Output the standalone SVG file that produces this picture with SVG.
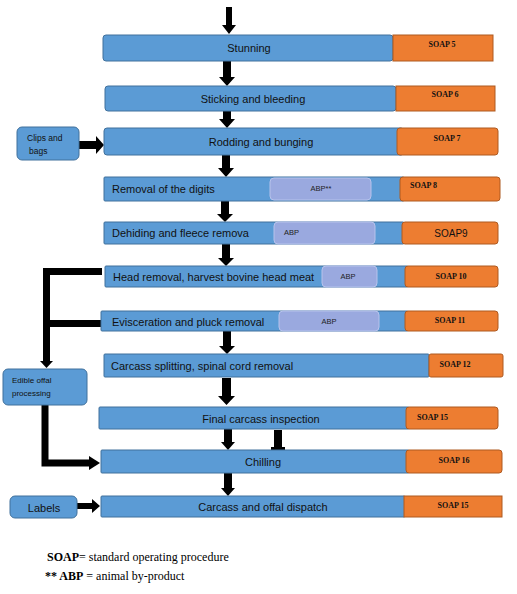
<svg xmlns="http://www.w3.org/2000/svg" width="517" height="594" viewBox="0 0 517 594">
<style>
.b{fill:#5B9BD5;stroke:#41719C;stroke-width:1}
.o{fill:#ED7D31;stroke:#AE5A21;stroke-width:1}
.a{fill:#9AA9DF;stroke:#B7C3EC;stroke-width:1}
.t{font-family:"Liberation Sans",Arial,sans-serif;font-size:11px;fill:#111}
.s{font-family:"Liberation Serif","Times New Roman",serif;font-size:8px;font-weight:bold;fill:#111}
.p{font-family:"Liberation Sans",Arial,sans-serif;font-size:7.5px;fill:#222}
.m{font-family:"Liberation Sans",Arial,sans-serif;font-size:8.5px;fill:#111}
.k{fill:#000}
.l{fill:none;stroke:#000;stroke-width:7}
.lg{font-family:"Liberation Serif","Times New Roman",serif;font-size:12px;fill:#000}
</style>

<g id="connectors">
  <path class="k" d="M226,7h6v18h4l-7,9l-7,-9h4z"/>
  <path class="k" d="M223,61h8v16h4l-8,9l-8,-9h4z"/>
  <path class="k" d="M223,111h8v8h4l-8,9l-8,-9h4z"/>
  <path class="k" d="M222,155h8v13h4l-8,9l-8,-9h4z"/>
  <path class="k" d="M221,201h8v13h4l-8,8l-8,-8h4z"/>
  <path class="k" d="M222,244h8v14h4l-8,8l-8,-8h4z"/>
  <path class="k" d="M223,331h8v15h4l-8,8l-8,-8h4z"/>
  <path class="k" d="M222,378h9v18h4l-8.5,9l-8.5,-9h4z"/>
  <path class="k" d="M224,429h8v13h3l-7,8l-7,-8h3z"/>
  <path class="k" d="M274,430h8v17h3v3h-14v-3h3z"/>
  <path class="k" d="M224,473h8v15h3l-7,8l-7,-8h3z"/>
  <path class="k" d="M79,141h17v-5l8,9l-8,9v-5h-17z"/>
  <path class="k" d="M255,186h15v4h-15z"/>
  <path class="k" d="M318,273h4v6h-4z"/>
  <path class="k" d="M77,503h15v-4l8,7l-8,7v-4h-15z"/>
  <path class="l" d="M102,271.5H46.5V362"/>
  <path class="l" d="M102,323.5H46.5"/>
  <path class="k" d="M40,361h13l-6.5,7z"/>
  <path class="l" d="M45,405V463H90"/>
  <path class="k" d="M89,456l11,7l-11,7z"/>
</g>

<g id="n-stunning">
  <rect class="b" x="103" y="35" width="290" height="26" rx="3"/>
  <rect class="o" x="393" y="35" width="100" height="26"/>
  <text class="t" x="249" y="52" text-anchor="middle">Stunning</text>
  <text class="s" x="442" y="47" text-anchor="middle">SOAP 5</text>
</g>
<g id="n-sticking">
  <rect class="b" x="105" y="86" width="291" height="25" rx="3"/>
  <rect class="o" x="396" y="86" width="99" height="25"/>
  <text class="t" x="253" y="103" text-anchor="middle">Sticking and bleeding</text>
  <text class="s" x="445" y="97" text-anchor="middle">SOAP 6</text>
</g>
<g id="n-rodding">
  <rect class="b" x="104" y="128" width="300" height="27" rx="3"/>
  <rect class="o" x="397" y="128" width="101" height="27" rx="3"/>
  <text class="t" x="261" y="146" text-anchor="middle">Rodding and bunging</text>
  <text class="s" x="447" y="141" text-anchor="middle">SOAP 7</text>
</g>
<g id="n-clips">
  <rect class="b" x="17" y="127" width="62" height="33" rx="5"/>
  <text class="m" x="27" y="141">Clips and</text>
  <text class="m" x="29" y="154">bags</text>
</g>
<g id="n-digits">
  <rect class="b" x="104" y="177" width="300" height="24" rx="1"/>
  <rect class="o" x="400" y="177" width="100" height="24" rx="3"/>
  <rect class="a" x="270" y="178" width="101" height="22" rx="4"/>
  <text class="t" x="112" y="193">Removal of the digits</text>
  <text class="p" x="321" y="191" text-anchor="middle">ABP**</text>
  <text class="s" x="410" y="188">SOAP 8</text>
</g>
<g id="n-dehiding">
  <rect class="b" x="104" y="222" width="300" height="22" rx="1"/>
  <rect class="o" x="402" y="222" width="96" height="22" rx="3"/>
  <rect class="a" x="274" y="222" width="101" height="22" rx="4"/>
  <text class="t" x="112" y="237">Dehiding and fleece remova</text>
  <text class="p" x="284" y="235">ABP</text>
  <text class="t" x="451" y="237" text-anchor="middle" style="font-size:10px">SOAP9</text>
</g>
<g id="n-head">
  <rect class="b" x="105" y="266" width="303" height="21" rx="1"/>
  <rect class="o" x="405" y="266" width="93" height="21" rx="3"/>
  <rect class="a" x="322" y="266" width="55" height="21" rx="4"/>
  <text class="t" x="113" y="281">Head removal, harvest bovine head meat</text>
  <text class="p" x="348" y="279" text-anchor="middle">ABP</text>
  <text class="s" x="451" y="279" text-anchor="middle">SOAP 10</text>
</g>
<g id="n-evisceration">
  <rect class="b" x="101" y="311" width="307" height="20" rx="1"/>
  <rect class="o" x="405" y="311" width="93" height="20" rx="3"/>
  <rect class="a" x="279" y="311" width="100" height="20" rx="4"/>
  <text class="t" x="112" y="326">Evisceration and pluck removal</text>
  <text class="p" x="329" y="324" text-anchor="middle">ABP</text>
  <text class="s" x="450" y="323" text-anchor="middle">SOAP 11</text>
</g>
<g id="n-splitting">
  <rect class="b" x="104" y="354" width="325" height="23" rx="1"/>
  <rect class="o" x="429" y="354" width="74" height="23" rx="2"/>
  <text class="t" x="111" y="370">Carcass splitting, spinal cord removal</text>
  <text class="s" x="455" y="367" text-anchor="middle">SOAP 12</text>
</g>
<g id="n-offal">
  <rect class="b" x="3" y="369" width="84" height="36" rx="5"/>
  <text class="m" x="12" y="383" style="font-size:8px">Edible offal</text>
  <text class="m" x="12" y="396" style="font-size:8px">processing</text>
</g>
<g id="n-final">
  <rect class="b" x="99" y="407" width="310" height="22" rx="1"/>
  <rect class="o" x="406" y="407" width="92" height="22" rx="3"/>
  <text class="t" x="261" y="423" text-anchor="middle">Final carcass inspection</text>
  <text class="s" x="417" y="420">SOAP 15</text>
</g>
<g id="n-chilling">
  <rect class="b" x="101" y="450" width="308" height="23" rx="1"/>
  <rect class="o" x="406" y="450" width="96" height="23" rx="3"/>
  <text class="t" x="263" y="466" text-anchor="middle">Chilling</text>
  <text class="s" x="454" y="463" text-anchor="middle">SOAP 16</text>
</g>
<g id="n-dispatch">
  <rect class="b" x="101" y="496" width="304" height="21" rx="1"/>
  <rect class="o" x="404" y="496" width="98" height="21"/>
  <text class="t" x="263" y="511" text-anchor="middle">Carcass and offal dispatch</text>
  <text class="s" x="453" y="508" text-anchor="middle">SOAP 15</text>
</g>
<g id="n-labels">
  <rect class="b" x="10" y="496" width="67" height="22" rx="5"/>
  <text class="t" x="44" y="512" text-anchor="middle">Labels</text>
</g>

<g id="legend">
  <text class="lg" x="47" y="561"><tspan font-weight="bold">SOAP</tspan>= standard operating procedure</text>
  <text class="lg" x="45" y="580"><tspan font-weight="bold">** ABP</tspan> = animal by-product</text>
</g>
</svg>
